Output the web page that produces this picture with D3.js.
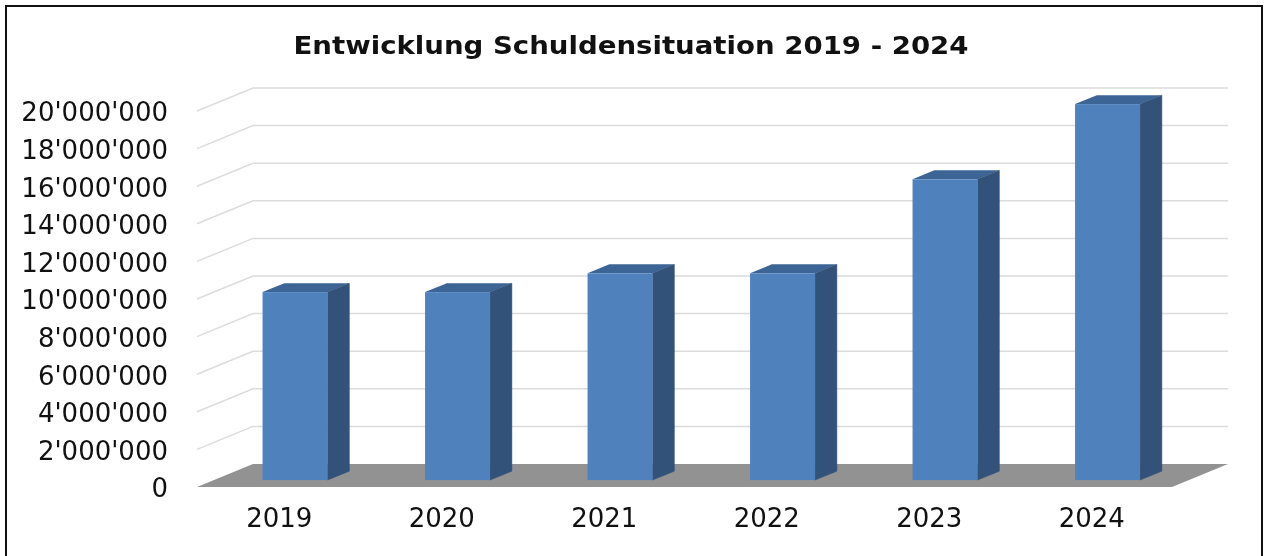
<!DOCTYPE html>
<html>
<head>
<meta charset="utf-8">
<script src="https://cdn.jsdelivr.net/npm/d3@7"></script>
<style>
  html, body { margin: 0; padding: 0; background: #fff; overflow: hidden; }
  svg { display: block; font-family: "DejaVu Sans", sans-serif; filter: blur(0.45px); }
  .axis text { fill: #111; font-size: 26px; }
  .axis .domain, .axis line { display: none; }
</style>
</head>
<body>
<svg id="grafica" width="1264" height="556"></svg>
<script>
const years = ["2019", "2020", "2021", "2022", "2023", "2024"];
const debts = [10000000, 10000000, 11000000, 11000000, 16000000, 20000000];
const y_ticks = [0, 2000000, 4000000, 6000000, 8000000, 10000000, 12000000, 14000000, 16000000, 18000000, 20000000];
const chart_title = "Entwicklung Schuldensituation 2019 - 2024";

const svg_w = 1264;
const svg_h = 556;

// la base frontal del gráfico 3D
const plot = {l:197, r:1172, t:111, b:487};
// cuánto se corre el fondo respecto al frente
const depth_x = d3.scaleLinear().domain([0,1]).range([0,56]);
const depth_y = d3.scaleLinear().domain([0,1]).range([0,-23]);
// la barra ocupa esta parte de la profundidad
const bar_front = 0.3;
const bar_back = 0.69;

const x_scale = d3.scaleBand()
  .domain(years)
  .range([plot.l, plot.r])
  .paddingInner(0.6)
  .paddingOuter(0.3);

const y_scale = d3.scaleLinear()
  .domain([0, 20000000])
  .range([plot.b, plot.t]);

const swiss = d3.formatLocale({decimal:".", thousands:"'", grouping:[3], currency:["",""]});

const svg = d3.select("#grafica");

// marco
svg.append("path")
  .attr("d", d3.line()([[6,svg_h+5],[6,6],[1262,6],[1262,svg_h+5]]))
  .attr("fill", "none")
  .attr("stroke", "#111")
  .attr("stroke-width", 2);

svg.append("text")
  .attr("x", 631)
  .attr("y", 54)
  .attr("text-anchor", "middle")
  .attr("font-size", 24)
  .attr("font-weight", "bold")
  .attr("fill", "#111")
  .attr("textLength", 675)
  .attr("lengthAdjust", "spacingAndGlyphs")
  .text(chart_title);

// líneas de la cuadrícula, sin la del cero que es el piso
svg.append("g")
  .selectAll("path")
  .data(y_ticks.filter(d => d > 0))
  .enter()
  .append("path")
  .attr("d", d => d3.line()([
    [plot.l, y_scale(d)],
    [plot.l + depth_x(1), y_scale(d) + depth_y(1)],
    [plot.r + depth_x(1), y_scale(d) + depth_y(1)]
  ]))
  .attr("fill", "none")
  .attr("stroke", "#dcdcdc")
  .attr("stroke-width", 1.5);

// piso
svg.append("path")
  .attr("d", d3.line()([
    [plot.l, plot.b],
    [plot.l + depth_x(1), plot.b + depth_y(1)],
    [plot.r + depth_x(1), plot.b + depth_y(1)],
    [plot.r, plot.b]
  ]) + "Z")
  .attr("fill", "#929292");

// barras: cara superior, lateral y frontal
const bars = svg.append("g")
  .selectAll("g")
  .data(years.map((d,i) => ({year:d, value:debts[i]})))
  .enter()
  .append("g")
  .attr("transform", `translate(${depth_x(bar_front)},${depth_y(bar_front)})`);

const dx = depth_x(bar_back - bar_front);
const dy = depth_y(bar_back - bar_front);

bars.append("path")
  .attr("d", d => {
    let x0 = x_scale(d.year), x1 = x0 + x_scale.bandwidth(), y = y_scale(d.value);
    return d3.line()([[x0,y],[x0+dx,y+dy],[x1+dx,y+dy],[x1,y]]) + "Z";
  })
  .attr("fill", "#3c6494");

bars.append("path")
  .attr("d", d => {
    let x1 = x_scale(d.year) + x_scale.bandwidth(), y = y_scale(d.value);
    return d3.line()([[x1,y],[x1+dx,y+dy],[x1+dx,y_scale(0)+dy],[x1,y_scale(0)]]) + "Z";
  })
  .attr("fill", "#325279")
  .attr("stroke", "#325279")
  .attr("stroke-width", 0.5);

bars.append("rect")
  .attr("x", d => x_scale(d.year))
  .attr("y", d => y_scale(d.value))
  .attr("width", x_scale.bandwidth())
  .attr("height", d => y_scale(0) - y_scale(d.value))
  .attr("fill", "#4f81bd");

// ejes
svg.append("g")
  .attr("class", "axis")
  .attr("transform", `translate(${plot.l},1.5)`)
  .call(d3.axisLeft(y_scale)
    .tickValues(y_ticks)
    .tickSize(0)
    .tickPadding(29)
    .tickFormat(swiss.format(",")))
  .attr("font-family", null)
  .attr("font-size", null);

svg.append("g")
  .attr("class", "axis")
  .attr("transform", `translate(1,${plot.b})`)
  .call(d3.axisBottom(x_scale).tickSize(0).tickPadding(22))
  .attr("font-family", null)
  .attr("font-size", null);
</script>
</body>
</html>
